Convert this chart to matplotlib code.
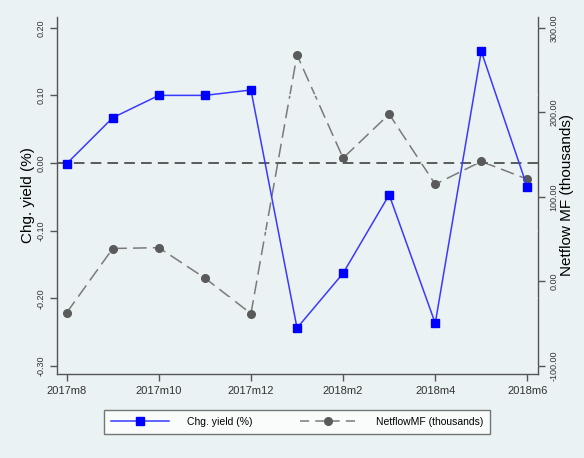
import matplotlib
matplotlib.use('Agg')
import matplotlib.pyplot as plt
from matplotlib.lines import Line2D

months = ['2017m8', '2017m9', '2017m10', '2017m11', '2017m12', '2018m1',
          '2018m2', '2018m3', '2018m4', '2018m5', '2018m6']
chg_yield = [-0.001, 0.067, 0.100, 0.100, 0.108, -0.244, -0.163, -0.047, -0.237, 0.165, -0.036]
netflow = [-37, 39, 40, 4, -38, 268, 146, 198, 115, 142, 121]

left_ticks = [-0.30, -0.20, -0.10, 0.00, 0.10, 0.20]
right_ticks = [-100, 0, 100, 200, 300]
xtick_idx = [0, 2, 4, 6, 8, 10]

bg = '#eaf2f3'
plt.rcParams['font.family'] = ['Liberation Sans', 'DejaVu Sans']

fig = plt.figure(figsize=(5.84, 4.58), dpi=100, facecolor=bg)
ax = fig.add_axes([0.0976, 0.1834, 0.8236, 0.7796])
ax2 = ax.twinx()

x = list(range(len(months)))

ax2.set_facecolor('white')
ax2.plot(x, netflow, color='#7a7a7a', lw=1.1, dashes=(9, 4),
         marker='o', ms=5.5, mfc='#5a5a5a', mec='#5a5a5a')
ax.set_zorder(ax2.get_zorder() + 1)
ax.patch.set_visible(False)

for t in left_ticks:
    ax.axhline(t, color='#eaf2f3', lw=1.2, zorder=0)
ax.axhline(0, color='#333333', lw=1.1, dashes=(7, 4), zorder=1)
ax.plot(x, chg_yield, color='#3a3aff', lw=1.1,
        marker='s', ms=6, mfc='#0000ff', mec='#0000ff', zorder=3)

ax.set_xlim(-0.21, 10.23)
ax.set_ylim(-0.312, 0.216)
ax2.set_ylim(-109.5, 313)

ax.set_xticks(xtick_idx)
ax.set_xticklabels([months[i] for i in xtick_idx], fontsize=8)
ax.set_yticks(left_ticks)
ax.set_yticklabels(['%.2f' % t for t in left_ticks], fontsize=6.5, rotation=90, va='center')
ax2.set_yticks(right_ticks)
ax2.set_yticklabels(['%.2f' % t for t in right_ticks], fontsize=6.5, rotation=90, va='center')

ax.set_ylabel('Chg. yield (%)', fontsize=11, labelpad=1)
ax2.set_ylabel('Netflow MF (thousands)', fontsize=11, rotation=90, labelpad=1)

for a in (ax, ax2):
    a.spines['top'].set_visible(False)
    for s in ('left', 'right', 'bottom'):
        a.spines[s].set_color('#555555')
        a.spines[s].set_linewidth(1.0)
    a.tick_params(colors='#555555', labelcolor='#333333', length=5, width=1.0)
ax2.spines['left'].set_visible(False)
ax2.spines['bottom'].set_visible(False)
ax.spines['right'].set_visible(False)

handles = [
    Line2D([], [], color='#3a3aff', lw=1.1, marker='s', ms=6, mfc='#0000ff', mec='#0000ff'),
    Line2D([], [], color='#7a7a7a', lw=1.1, dashes=(6, 4), marker='o', ms=5.5,
           mfc='#5a5a5a', mec='#5a5a5a'),
]
leg = fig.legend(handles, ['Chg. yield (%)', 'NetflowMF (thousands)'],
                 loc='center', bbox_to_anchor=(0.509, 0.079), ncol=2,
                 fontsize=7.5, frameon=True, fancybox=False, handlelength=5.5,
                 columnspacing=4.5, borderpad=0.7, handletextpad=1.8)
leg.get_frame().set_edgecolor('#555555')
leg.get_frame().set_linewidth(1.0)

fig.savefig('out.png', dpi=100, facecolor=bg)
